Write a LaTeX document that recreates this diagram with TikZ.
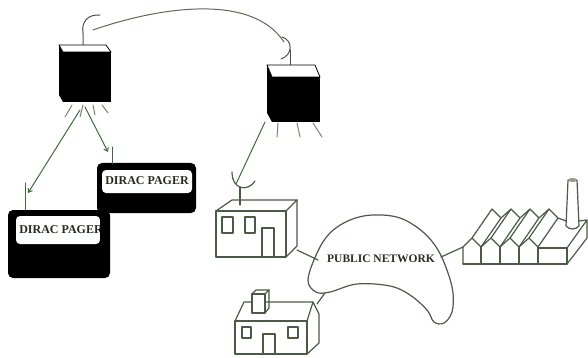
\documentclass[tikz,border=0pt]{standalone}
\usepackage{fontspec}
\setmainfont{Liberation Serif}
\usetikzlibrary{arrows.meta}
\definecolor{wire}{HTML}{5E6A52}
\definecolor{link}{HTML}{3F6A3C}
\definecolor{ink}{HTML}{4A5A44}
\definecolor{ray}{HTML}{7A8570}
\definecolor{label}{HTML}{262C22}
\begin{document}
\begin{tikzpicture}[x=1pt,y=-1pt, line join=round, line cap=round,
  outline/.style={draw=ink, line width=1.2pt},
  beam/.style={draw=link, line width=1pt},
  beamtip/.style={beam, -{Straight Barb[length=3.5pt,width=5pt]}},
  rayline/.style={draw=ray, line width=1pt},
  mast/.style={draw=black!70, line width=1pt},
  cubeside/.style={fill=black},
  cubetop/.style={draw=black, fill=white, line width=0.8pt},
  pagerbody/.style={fill=black, rounded corners=5pt},
  pagerface/.style={fill=white, rounded corners=4pt},
  pagertext/.style={font=\bfseries\fontsize{12}{12}\selectfont, text=label, inner sep=0pt},
  nettext/.style={font=\bfseries\fontsize{11.5}{12}\selectfont, text=label, inner sep=0pt},
]
\useasboundingbox (0,0) rectangle (588,358);

% ---------- satellite 1 ----------
\fill[cubeside] (59,45) -- (63,52) -- (63,102) -- (59,95) -- cycle;
\fill[cubeside] (63,52) rectangle (111,102);
\draw[cubetop] (59,45) -- (106,45) -- (111,52) -- (63,52) -- cycle;
\draw[mast] (83,45) -- (83,33) .. controls (81,22) and (88,14) .. (100,15);
\coordinate (s1link) at (93,30);
\coordinate (s1a) at (80,110);
\coordinate (s1b) at (85,107);
\draw[rayline] (72,105) -- (65,117);
\draw[rayline] (83,105) -- (80,117);
\draw[rayline] (93,105) -- (95,115);
\draw[rayline] (102,105) -- (108,113);

% ---------- satellite 2 ----------
\fill[cubeside] (267,65) -- (272,77) -- (272,122) -- (267,113) -- cycle;
\fill[cubeside] (272,77) rectangle (320,122);
\draw[cubetop] (267,65) -- (315,65) -- (320,77) -- (272,77) -- cycle;
\draw[mast] (282,37) .. controls (293,40) and (293,55) .. (281,59);
\draw[mast] (290,50) -- (290,65);
\coordinate (s2link) at (284,42);
\coordinate (s2a) at (265,122);
\draw[rayline] (278,123) -- (277,137);
\draw[rayline] (297,123) -- (300,137);
\draw[rayline] (313,123) -- (322,137);

% satellite-to-satellite link
\draw[wire, line width=1pt] (s1link) .. controls (150,10) and (250,-10) .. (s2link);

% ---------- pagers ----------
\fill[pagerbody] (97,163) rectangle (196,213);
\fill[pagerface] (102,170) rectangle (192,193);
\node[pagertext] (pagerB) at (147,181) {DIRAC PAGER};
\draw[mast, draw=link] (112,147) -- (112,164);
\coordinate (pagerBin) at (108,152);

\fill[pagerbody] (8,210) rectangle (110,278);
\fill[pagerface] (16,216) rectangle (100,244);
\node[pagertext] (pagerA) at (61,230) {DIRAC PAGER};
\fill[black] (100,216) rectangle (106,244);
\draw[mast, draw=link] (25,183) -- (25,210);
\coordinate (pagerAin) at (28,193);

\draw[beamtip] (s1a) -- (pagerAin);
\draw[beamtip] (s1b) -- (pagerBin);

% ---------- office with dish ----------
\draw[outline] (216,211) rectangle (286,257);
\draw[outline] (216,211) -- (232,200) -- (297,200) -- (286,211);
\draw[outline] (297,200) -- (297,246) -- (286,257);
\draw[outline] (222,217) rectangle (233,233);
\draw[outline] (245,217) rectangle (255,233);
\draw[outline] (262,228) rectangle (274,257);
\draw[outline] (232,172) .. controls (232,190) and (248,192) .. (255,181);
\draw[outline] (240,187) -- (240,205);
\coordinate (dish) at (236,184);
\draw[beam] (s2a) -- (dish);

% ---------- public network ----------
\draw[outline] plot[smooth cycle, tension=0.6] coordinates {
  (308,280) (317,253) (330,233) (350,220) (373,215) (400,218) (423,232)
  (438,250) (448,273) (453,293) (452,312) (444,323) (434,322) (427,310)
  (410,295) (390,286) (357,284) (330,292) (316,292)};
\node[nettext] (net) at (381,259) {PUBLIC NETWORK};
\coordinate (netW) at (318,260);
\coordinate (netS) at (325,293);
\coordinate (netE) at (441,257);

% ---------- house ----------
\draw[outline] (235,321) rectangle (307,354);
\draw[outline] (235,321) -- (244,302) -- (313,302) -- (307,321);
\draw[outline] (313,302) -- (319,314) -- (319,343) -- (307,354);
\draw[outline, fill=white] (252,294) rectangle (265,313);
\draw[outline] (252,294) -- (256,290) -- (269,290) -- (265,294);
\draw[outline] (269,290) -- (269,308) -- (265,313);
\draw[outline] (242,327) rectangle (251,338);
\draw[outline] (288,327) rectangle (298,338);
\draw[outline] (263,334) rectangle (275,354);
\coordinate (houseN) at (317,304);
\coordinate (officeE) at (297,250);

% ---------- factory ----------
\draw[outline] (463,264) -- (463,247) -- (472,238) -- (481,247) -- (491,238)
  -- (500,247) -- (510,238) -- (519,247) -- (529,238) -- (538,247);
\draw[outline] (463,264) -- (567,264);
\foreach \x in {481,500,519,538} \draw[outline] (\x,247) -- (\x,264);
\foreach \x in {472,491,510,529} \draw[outline] (\x,238) -- ++(20,-29);
\foreach \x in {481,500,519,538} \draw[outline] (\x,247) -- ++(20,-29);
\draw[outline] (492,209) -- (501,218) -- (511,209) -- (520,218) -- (530,209)
  -- (539,218) -- (549,209) -- (558,218) -- (566,221);
\draw[outline] (538,248) -- (567,248) -- (567,264);
\draw[outline] (567,248) -- (587,220) -- (587,238) -- (567,264);
\draw[outline] (579,221) -- (587,220);
\draw[outline, fill=white] (566,226) -- (568,180) -- (577,180) -- (579,226)
  .. controls (575,230) and (570,230) .. (566,226);
\fill[ink!60] (572.5,180) ellipse (4.5pt and 2pt);
\coordinate (factoryW) at (463,247);

% links to the network
\draw[outline] (officeE) -- (netW);
\draw[outline] (netS) -- (houseN);
\draw[outline] (netE) -- (factoryW);
\end{tikzpicture}
\end{document}
